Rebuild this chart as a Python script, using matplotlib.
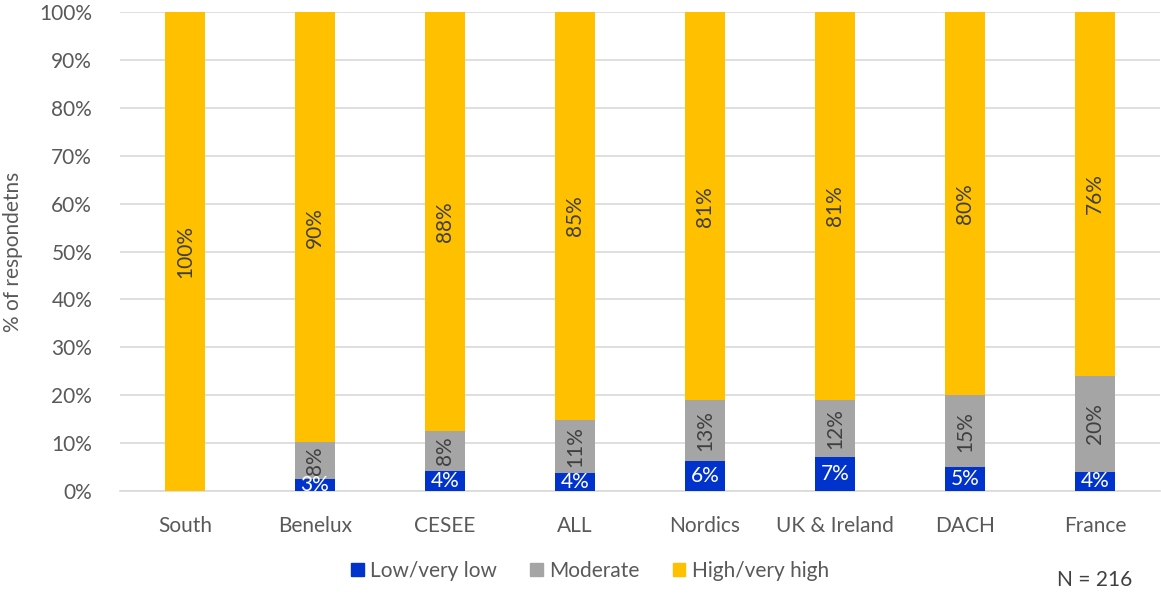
import matplotlib
matplotlib.use("Agg")
import matplotlib.pyplot as plt
from matplotlib.patches import Patch

categories = ["South", "Benelux", "CESEE", "ALL", "Nordics", "UK & Ireland", "DACH", "France"]
low = [0.0, 2.6, 4.2, 3.7, 6.3, 7.1, 5.0, 4.0]
moderate = [0.0, 7.6, 8.3, 11.1, 12.6, 11.9, 15.0, 20.0]
high = [100.0, 89.8, 87.5, 85.2, 81.1, 81.0, 80.0, 76.0]
series_names = ["Low/very low", "Moderate", "High/very high"]

plt.rcParams['font.family'] = ['Lato', 'DejaVu Sans']
c_low, c_mod, c_high = "#0033CC", "#A5A5A5", "#FFC000"
txt = "#595959"

fig = plt.figure(figsize=(11.61, 5.93), dpi=100)
ax = fig.add_axes([120/1161, 1-491/593, 1040/1161, 479/593])

x = list(range(len(categories)))
w = 0.31
ax.bar(x, low, w, color=c_low, zorder=3)
ax.bar(x, moderate, w, bottom=low, color=c_mod, zorder=3)
bot2 = [a + b for a, b in zip(low, moderate)]
ax.bar(x, high, w, bottom=bot2, color=c_high, zorder=3)

for i in x:
    if low[i] > 0:
        ax.text(i, low[i]/2, f"{round(low[i])}%", ha="center", va="center",
                color="white", fontsize=15, zorder=4)
    if moderate[i] > 0:
        ax.text(i, low[i] + moderate[i]/2, f"{round(moderate[i])}%", ha="center", va="center",
                color="#404040", fontsize=15, rotation=90, zorder=4)
    ax.text(i, bot2[i] + high[i]/2, f"{round(high[i])}%", ha="center", va="center",
            color="#404040", fontsize=15, rotation=90, zorder=4)

ax.set_xlim(-0.5, len(categories) - 0.5)
ax.set_ylim(0, 100)
ax.set_yticks(range(0, 101, 10))
ax.set_yticklabels([f"{v}%" for v in range(0, 101, 10)])
ax.set_xticks(x)
ax.set_xticklabels(categories)
ax.tick_params(axis="both", length=0, labelsize=15, colors=txt)
ax.tick_params(axis="x", pad=18)
ax.tick_params(axis="y", pad=20)
ax.grid(axis="y", color="#D9D9D9", linewidth=1.2, zorder=0)
for s in ["top", "right", "left"]:
    ax.spines[s].set_visible(False)
ax.spines["bottom"].set_color("#D9D9D9")
ax.spines["bottom"].set_linewidth(1.2)
ax.set_ylabel("% of respondetns", fontsize=15, color=txt, labelpad=12)

handles = [Patch(color=c) for c in (c_low, c_mod, c_high)]
fig.legend(handles, series_names, loc="center", bbox_to_anchor=(590/1161, 1-571/593),
           ncol=3, frameon=False, fontsize=15, labelcolor=txt,
           handlelength=0.6, handleheight=0.6, handletextpad=0.3, columnspacing=1.6)
fig.text(1095/1161, 1-580/593, "N = 216", ha="center", va="center", fontsize=15, color="#404040")

fig.savefig("out.png", dpi=100)
